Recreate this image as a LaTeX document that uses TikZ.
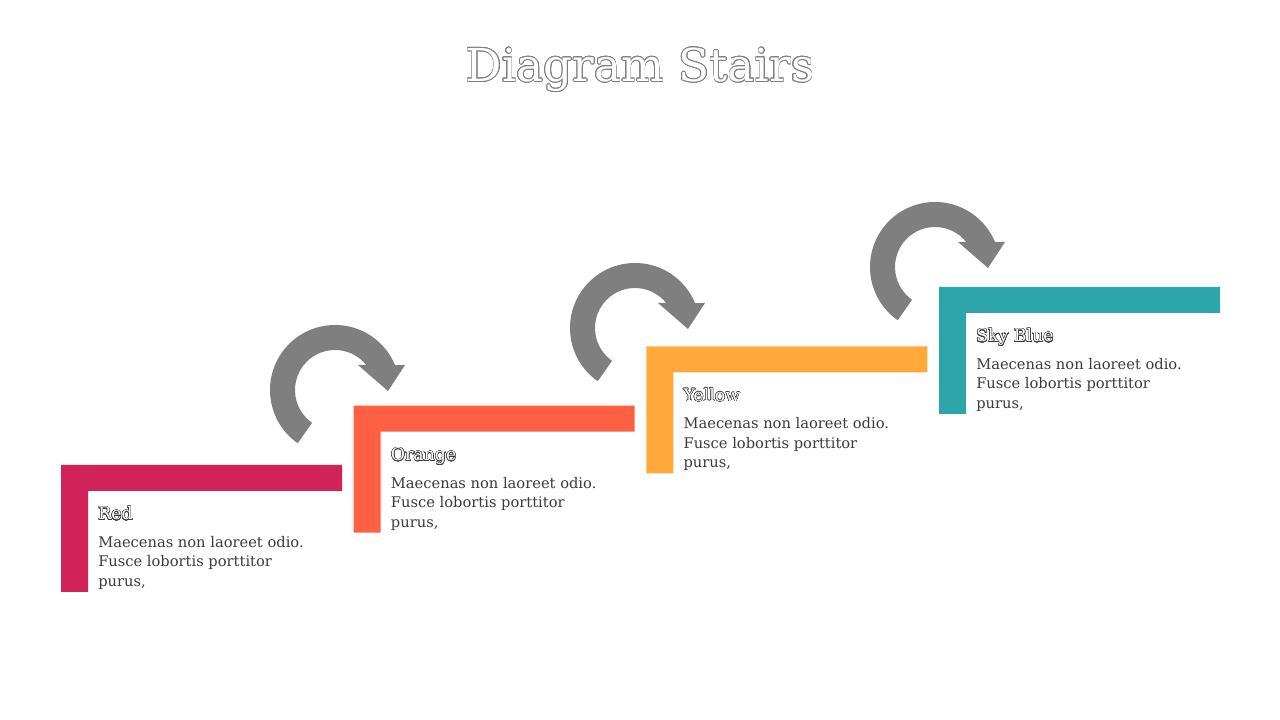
\documentclass[tikz,border=0pt]{standalone}
\usepackage{fontspec}
\setmainfont{DejaVu Serif}
\usepackage{contour}
\contourlength{0.3pt}
\contournumber{24}
\usetikzlibrary{calc}
\usetikzlibrary{positioning}
\definecolor{stepred}{HTML}{D0235A}
\definecolor{steporange}{HTML}{FF6043}
\definecolor{stepyellow}{HTML}{FFA93B}
\definecolor{stepblue}{HTML}{2EA5A8}
\definecolor{turngray}{HTML}{7F7F7F}
\definecolor{textgray}{HTML}{3A3A3A}
\tikzset{
  stair/.pic={\path[pic actions] (0,0) -- (281,0) -- (281,-26) -- (27,-26) -- (27,-127) -- (0,-127) -- cycle;},
  turn/.pic={\path[pic actions] (235:65) arc[start angle=235, end angle=22.6, radius=65] -- (70,25) -- (53,-1) -- (23,25) -- (31.2,25) arc[start angle=38.7, end angle=235, radius=40] -- cycle;},
  heading/.style={anchor=base west, inner sep=0pt, font=\fontsize{13}{15}\selectfont},
  body/.style={anchor=north west, inner sep=0pt, align=left, text=textgray, font=\fontsize{11}{14.6}\selectfont}
  }

\begin{document}
\begin{tikzpicture}[x=0.75pt, y=0.75pt]
	\useasboundingbox (0,0) rectangle (1280,720);

	% Title
	\node (title) at (640,650) {\fontsize{34}{38}\selectfont\contourlength{0.45pt}\contour{turngray}{\color{white}Diagram Stairs}};

	% Stairs
	\coordinate (c1) at (61,255);
	\coordinate (c2) at (353.7,314.3);
	\coordinate (c3) at (646.3,373.6);
	\coordinate (c4) at (939,433);
	\pic[fill=stepred] at (c1) {stair};
	\pic[fill=steporange] at (c2) {stair};
	\pic[fill=stepyellow] at (c3) {stair};
	\pic[fill=stepblue] at (c4) {stair};

	% Turning arrows
	\pic[fill=turngray] at (335,330) {turn};
	\pic[fill=turngray] at (635,392) {turn};
	\pic[fill=turngray] at (935,453) {turn};

	% Labels
	\node[heading] (red) at ($(c1)+(37,-55)$) {\contour{textgray}{\color{white}Red}};
	\node[body, below=12pt of red.base west, anchor=north west] (redtext) {Maecenas non laoreet odio.\\Fusce lobortis porttitor\\purus,};
	\node[heading] (orange) at ($(c2)+(37,-55)$) {\contour{textgray}{\color{white}Orange}};
	\node[body, below=12pt of orange.base west, anchor=north west] (orangetext) {Maecenas non laoreet odio.\\Fusce lobortis porttitor\\purus,};
	\node[heading] (yellow) at ($(c3)+(37,-55)$) {\contour{textgray}{\color{white}Yellow}};
	\node[body, below=12pt of yellow.base west, anchor=north west] (yellowtext) {Maecenas non laoreet odio.\\Fusce lobortis porttitor\\purus,};
	\node[heading] (skyblue) at ($(c4)+(37,-55)$) {\contour{textgray}{\color{white}Sky Blue}};
	\node[body, below=12pt of skyblue.base west, anchor=north west] (skybluetext) {Maecenas non laoreet odio.\\Fusce lobortis porttitor\\purus,};
\end{tikzpicture}
\end{document}
